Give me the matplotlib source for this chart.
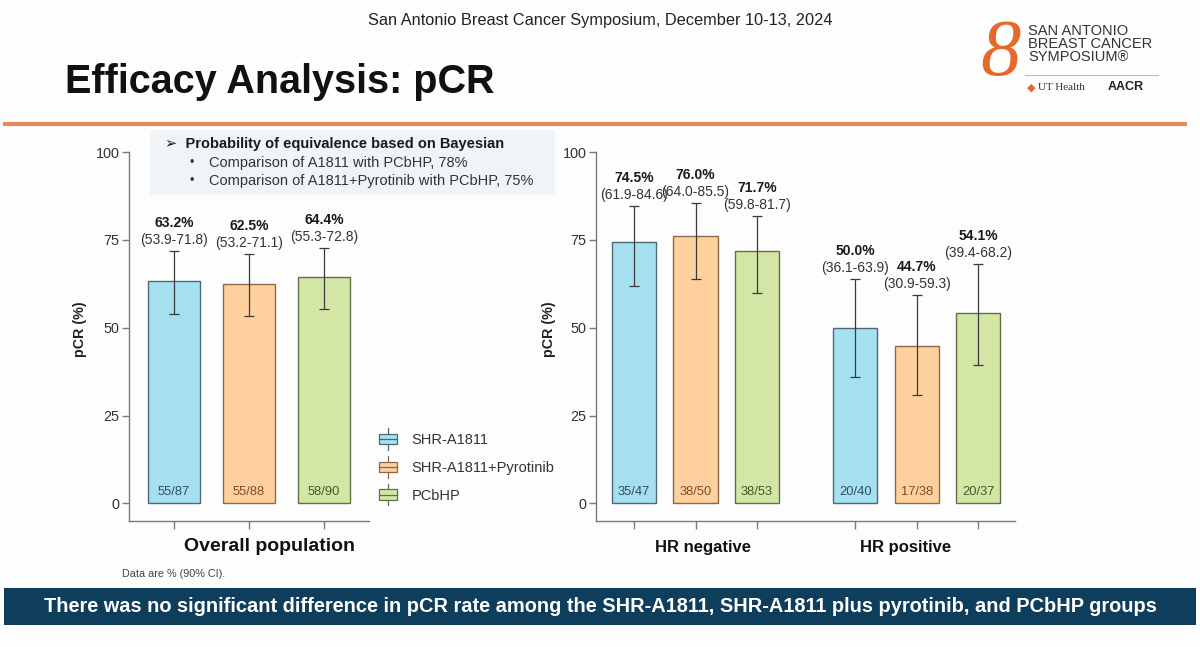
import matplotlib
matplotlib.use('Agg')
from matplotlib import pyplot as plt
from matplotlib.legend_handler import HandlerBase
from matplotlib.patches import Patch, Rectangle, FancyBboxPatch
from matplotlib.lines import Line2D

plt.rcParams['font.family'] = ['Liberation Sans', 'DejaVu Sans']

# --- data -------------------------------------------------------------
arms = ['SHR-A1811', 'SHR-A1811+Pyrotinib', 'PCbHP']

overall_pcr = [63.2, 62.5, 64.4]
overall_lo = [53.9, 53.2, 55.3]
overall_hi = [71.8, 71.1, 72.8]
overall_n = ['55/87', '55/88', '58/90']

hrneg_pcr = [74.5, 76.0, 71.7]
hrneg_lo = [61.9, 64.0, 59.8]
hrneg_hi = [84.6, 85.5, 81.7]
hrneg_n = ['35/47', '38/50', '38/53']

hrpos_pcr = [50.0, 44.7, 54.1]
hrpos_lo = [36.1, 30.9, 39.4]
hrpos_hi = [63.9, 59.3, 68.2]
hrpos_n = ['20/40', '17/38', '20/37']

y_ticks = [0, 25, 50, 75, 100]

# --- styles -----------------------------------------------------------
fills = ['#a6dff0', '#fdd09e', '#d4e6a5']
edges = ['#4a6a76', '#8a6a4a', '#62704a']
count_colors = ['#2d4f63', '#7a4f2a', '#3d5a2a']
axis_color = '#7a7a7a'
text_color = '#333333'


class BoxHandler(HandlerBase):
    def create_artists(self, legend, orig_handle, xdescent, ydescent,
                       width, height, fontsize, trans):
        fc = orig_handle.get_facecolor()
        ec = orig_handle.get_edgecolor()
        x0, w = -xdescent, width
        yc = -ydescent + height / 2
        bh = height * 0.9
        box = Rectangle((x0, yc - bh / 2), w, bh, facecolor=fc,
                        edgecolor=ec, lw=0.9, transform=trans)
        mid = Line2D([x0, x0 + w], [yc, yc], color=ec, lw=0.9, transform=trans)
        wh = Line2D([x0 + w / 2, x0 + w / 2], [yc - bh / 2 - 4, yc + bh / 2 + 4],
                    color=ec, lw=0.9, transform=trans)
        return [wh, box, mid]


def draw_bars(ax, xs, pcr, lo, hi, counts, width):
    for i, (x, v, l, h, n) in enumerate(zip(xs, pcr, lo, hi, counts)):
        k = i % 3
        ax.bar(x, v, width=width, color=fills[k], edgecolor=edges[k],
               linewidth=1.0, zorder=2)
        ax.errorbar(x, v, yerr=[[v - l], [h - v]], fmt='none', ecolor='#3a3a3a',
                    elinewidth=0.9, capsize=3.6, capthick=0.9, zorder=3)
        ax.annotate(f'({l:.1f}-{h:.1f})', (x, h), xytext=(0, 11),
                    textcoords='offset pixels', ha='center', va='center',
                    fontsize=10, color=text_color)
        ax.annotate(f'{v:.1f}%', (x, h), xytext=(0, 28),
                    textcoords='offset pixels', ha='center', va='center',
                    fontsize=10, fontweight='bold', color='#1a1a1a')
        ax.annotate(n, (x, 0), xytext=(0, 11), textcoords='offset pixels',
                    ha='center', va='center', fontsize=9.3, color=count_colors[k])


def style_axis(ax, xs, xlim, label_x):
    ax.set_ylim(-5, 100)
    ax.set_xlim(*xlim)
    ax.set_yticks(y_ticks)
    ax.set_xticks(xs)
    ax.set_xticklabels([])
    for s in ['top', 'right']:
        ax.spines[s].set_visible(False)
    for s in ['left', 'bottom']:
        ax.spines[s].set_color(axis_color)
        ax.spines[s].set_linewidth(1.0)
    ax.tick_params(axis='y', length=5, width=1, color=axis_color,
                   labelsize=10.4, labelcolor=text_color, pad=2)
    ax.tick_params(axis='x', length=6, width=1, color=axis_color)
    ax.set_facecolor('none')
    ax.set_ylabel('pCR (%)', fontsize=10.3, fontweight='bold', color='#222222')
    ax.yaxis.set_label_coords(label_x, 0.52)


fig = plt.figure(figsize=(12, 6.47), dpi=100)
fig.patch.set_facecolor('#fdfdfd')

# header
fig.text(0.5, 1 - 20 / 647, 'San Antonio Breast Cancer Symposium, December 10-13, 2024',
         ha='center', va='center', fontsize=11.8, color='#222222')
fig.text(65 / 1200, 1 - 82 / 647, 'Efficacy Analysis: pCR', ha='left', va='center',
         fontsize=28.5, fontweight='bold', color='#111111')
fig.add_artist(Line2D([5 / 1200, 1185 / 1200], [1 - 124 / 647] * 2,
                      color='#e98a5e', lw=3, transform=fig.transFigure))

# logo
fig.text(1000 / 1200, 1 - 56 / 647, '8', ha='center', va='center', fontsize=58,
         fontstyle='italic', family='Liberation Serif', color='#e8682a')
fig.text(1028 / 1200, 1 - 44 / 647, 'SAN ANTONIO\nBREAST CANCER\nSYMPOSIUM\u00ae',
         ha='left', va='center', fontsize=10.5, linespacing=0.95, color='#333333')
fig.add_artist(Line2D([1025 / 1200, 1158 / 1200], [1 - 75 / 647] * 2,
                      color='#bbbbbb', lw=0.8, transform=fig.transFigure))
fig.text(1038 / 1200, 1 - 87 / 647, 'UT Health', ha='left', va='center',
         fontsize=8, family='Liberation Serif', color='#333333')
fig.text(1108 / 1200, 1 - 87 / 647, 'AACR', ha='left', va='center', fontsize=9,
         fontweight='bold', color='#222222')
fig.text(1031 / 1200, 1 - 88 / 647, '\u25c6', ha='center', va='center',
         fontsize=8, color='#e8682a')

# left panel: overall population
ax1 = fig.add_axes([129 / 1200, 1 - 521 / 647, 240 / 1200, 369 / 647])
x_overall = [0, 1, 2]
draw_bars(ax1, x_overall, overall_pcr, overall_lo, overall_hi, overall_n, 0.69)
style_axis(ax1, x_overall, (-0.6, 2.6), -0.175)
ax1.text(1.27, -0.07, 'Overall population', transform=ax1.get_xaxis_transform(),
         ha='center', va='center', fontsize=14, fontweight='bold', color='#111111')

# right panel: HR subgroups
ax2 = fig.add_axes([596 / 1200, 1 - 521 / 647, 419 / 1200, 369 / 647])
x_neg = [0, 1, 2]
x_pos = [3.6, 4.6, 5.6]
draw_bars(ax2, x_neg, hrneg_pcr, hrneg_lo, hrneg_hi, hrneg_n, 0.72)
draw_bars(ax2, x_pos, hrpos_pcr, hrpos_lo, hrpos_hi, hrpos_n, 0.72)
style_axis(ax2, x_neg + x_pos, (-0.62, 6.2), -0.095)
ax2.text(1.12, -0.073, 'HR negative', transform=ax2.get_xaxis_transform(),
         ha='center', va='center', fontsize=12, fontweight='bold', color='#111111')
ax2.text(4.42, -0.073, 'HR positive', transform=ax2.get_xaxis_transform(),
         ha='center', va='center', fontsize=12, fontweight='bold', color='#111111')

# legend
handles = [Patch(facecolor=f, edgecolor=e) for f, e in zip(fills, edges)]
fig.legend(handles, arms, handler_map={Patch: BoxHandler()}, loc='upper left',
           bbox_to_anchor=(379 / 1200, 1 - 433 / 647), frameon=False, fontsize=10.5,
           labelspacing=0.95, handlelength=1.25, handleheight=0.85,
           handletextpad=1.0, borderpad=0, borderaxespad=0,
           labelcolor=text_color)

# bayesian note
fig.add_artist(FancyBboxPatch((150 / 1200, 1 - 195 / 647), 405 / 1200, 65 / 647,
                              boxstyle='square,pad=0', facecolor='#f1f4f7',
                              edgecolor='none', transform=fig.transFigure, zorder=0))
fig.text(165 / 1200, 1 - 144 / 647, '\u27a2  Probability of equivalence based on Bayesian',
         ha='left', va='center', fontsize=10.5, fontweight='bold', color='#1a1a1a',
         family=['Liberation Sans', 'DejaVu Sans'])
fig.text(190 / 1200, 1 - 163 / 647, '\u2022', ha='left', va='center', fontsize=9, color='#333333')
fig.text(209 / 1200, 1 - 163 / 647, 'Comparison of A1811 with PCbHP, 78%',
         ha='left', va='center', fontsize=10.5, color='#333333')
fig.text(190 / 1200, 1 - 181 / 647, '\u2022', ha='left', va='center', fontsize=9, color='#333333')
fig.text(209 / 1200, 1 - 181 / 647, 'Comparison of A1811+Pyrotinib with PCbHP, 75%',
         ha='left', va='center', fontsize=10.5, color='#333333')

fig.text(122 / 1200, 1 - 574 / 647, 'Data are % (90% CI).', ha='left', va='center',
         fontsize=7.8, color='#444444')

# bottom banner
fig.add_artist(FancyBboxPatch((4 / 1200, 1 - 625 / 647), 1192 / 1200, 37 / 647,
                              boxstyle='square,pad=0', facecolor='#0f3d5c',
                              edgecolor='none', transform=fig.transFigure, zorder=0))
banner = ('There was no significant difference in pCR rate among the SHR-A1811, '
          'SHR-A1811 plus pyrotinib, and PCbHP groups')
fig.text(0.5, 1 - 607 / 647, banner, ha='center', va='center', fontsize=14.4,
         fontweight='bold', color='white')

fig.savefig('out.png', dpi=100, facecolor=fig.get_facecolor())
